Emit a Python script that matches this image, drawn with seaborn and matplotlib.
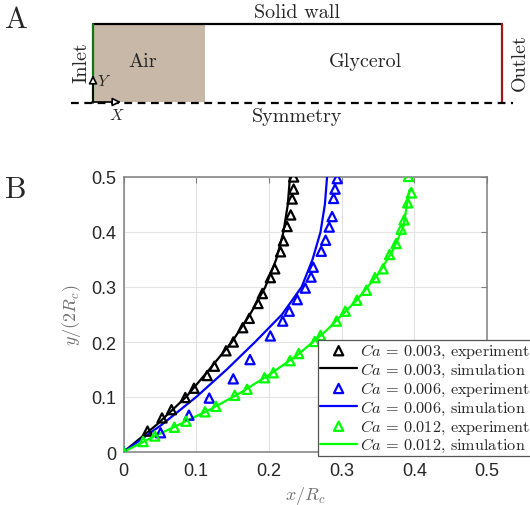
import numpy as np
import pandas as pd
import matplotlib
matplotlib.use("Agg")
import matplotlib.pyplot as plt
import seaborn as sns
from matplotlib.patches import Rectangle

# ---------------- data ----------------
black_exp_x = [0, 0.033, 0.053, 0.066, 0.085, 0.097, 0.115, 0.125, 0.141, 0.151, 0.164, 0.173,
               0.185, 0.191, 0.202, 0.208, 0.216, 0.220, 0.225, 0.230, 0.232, 0.234, 0.234]
black_exp_y = [0, 0.038, 0.062, 0.077, 0.099, 0.116, 0.139, 0.156, 0.184, 0.200, 0.226, 0.243,
               0.270, 0.288, 0.317, 0.333, 0.364, 0.384, 0.410, 0.431, 0.460, 0.478, 0.500]

blue_exp_x = [0, 0.051, 0.090, 0.118, 0.151, 0.174, 0.202, 0.219, 0.228, 0.239, 0.250, 0.258,
              0.261, 0.272, 0.278, 0.283, 0.287, 0.289, 0.291, 0.294]
blue_exp_y = [0, 0.035, 0.067, 0.098, 0.133, 0.168, 0.211, 0.238, 0.256, 0.277, 0.298, 0.318,
              0.336, 0.365, 0.385, 0.409, 0.428, 0.461, 0.478, 0.497]

green_exp_x = [0, 0.027, 0.043, 0.070, 0.086, 0.112, 0.127, 0.153, 0.170, 0.194, 0.206, 0.229,
               0.241, 0.263, 0.271, 0.293, 0.305, 0.321, 0.334, 0.346, 0.357, 0.366, 0.375,
               0.382, 0.386, 0.391, 0.396, 0.392]
green_exp_y = [0, 0.019, 0.029, 0.045, 0.056, 0.073, 0.083, 0.103, 0.114, 0.135, 0.144, 0.166,
               0.179, 0.201, 0.212, 0.238, 0.256, 0.276, 0.294, 0.317, 0.333, 0.359, 0.379,
               0.405, 0.422, 0.453, 0.471, 0.501]

sim_y = [0, 0.05, 0.1, 0.15, 0.2, 0.25, 0.3, 0.35, 0.4, 0.45, 0.5]
black_sim_x = [0, 0.046, 0.086, 0.118, 0.149, 0.174, 0.195, 0.210, 0.220, 0.226, 0.229]
blue_sim_x = [0, 0.053, 0.100, 0.142, 0.181, 0.218, 0.245, 0.260, 0.271, 0.277, 0.280]

green_sim_x = [0, 0.04, 0.08, 0.12, 0.16, 0.2, 0.24, 0.28, 0.32, 0.35, 0.37, 0.385, 0.393, 0.396, 0.393]
green_sim_y = [0, 0.027, 0.052, 0.078, 0.107, 0.14, 0.177, 0.222, 0.275, 0.323, 0.365, 0.41, 0.45, 0.48, 0.5]

ca_labels = ["0.003", "0.006", "0.012"]
colors = ["#000000", "#0000ff", "#00ff00"]
x_ticks = [0, 0.1, 0.2, 0.3, 0.4, 0.5]
y_ticks = [0, 0.1, 0.2, 0.3, 0.4, 0.5]
tick_labels = ["0", "0.1", "0.2", "0.3", "0.4", "0.5"]

# ---------------- style ----------------
sns.set_style("white")
plt.rcParams["font.family"] = ["Liberation Sans", "DejaVu Sans"]
plt.rcParams["mathtext.fontset"] = "cm"

W, H = 530, 506
fig = plt.figure(figsize=(W / 100, H / 100), dpi=100)

serif = "cmr10"

# ---------------- panel A (schematic) ----------------
axA = fig.add_axes([0, 1 - 130 / H, 1, 130 / H])
axA.set_xlim(0, W)
axA.set_ylim(130, 0)
axA.axis("off")
axA.add_patch(Rectangle((93, 25), 112, 78, facecolor="#c8b8a7", edgecolor="none", zorder=1))
axA.plot([93, 502], [25, 25], color="black", lw=1.6, zorder=3)
axA.plot([93, 93], [25, 103], color="#0a7a0a", lw=1.6, zorder=3)
axA.plot([502, 502], [25, 103], color="#a01818", lw=1.6, zorder=3)
axA.plot([71, 513], [104, 104], color="black", lw=1.6, ls=(0, (3.5, 2.5)), zorder=3)
axA.annotate("", xy=(93, 76), xytext=(93, 104),
             arrowprops=dict(arrowstyle="-|>,head_length=0.5,head_width=0.25", color="black",
                             lw=1.2, fc="white", shrinkA=0, shrinkB=0), zorder=4)
axA.annotate("", xy=(121, 103), xytext=(92, 103),
             arrowprops=dict(arrowstyle="-|>,head_length=0.5,head_width=0.25", color="black",
                             lw=1.2, fc="white", shrinkA=0, shrinkB=0), zorder=4)
fsA = 14.5
axA.text(297, 13, "Solid wall", family=serif, fontsize=fsA, ha="center", va="center")
axA.text(143, 62, "Air", family=serif, fontsize=fsA, ha="center", va="center")
axA.text(365, 62, "Glycerol", family=serif, fontsize=fsA, ha="center", va="center")
axA.text(81, 63, "Inlet", family=serif, fontsize=fsA, ha="center", va="center", rotation=90)
axA.text(520, 63, "Outlet", family=serif, fontsize=fsA, ha="center", va="center", rotation=90)
axA.text(297, 117, "Symmetry", family=serif, fontsize=fsA, ha="center", va="center")
axA.text(104, 82, "$Y$", fontsize=11.5, ha="center", va="center")
axA.text(117, 115, "$X$", fontsize=11.5, ha="center", va="center")
axA.text(16, 20, "A", family=serif, fontsize=22, ha="center", va="center")

fig.text(16 / W, 1 - 190 / H, "B", family=serif, fontsize=22, ha="center", va="center")

# ---------------- panel B ----------------
ax = fig.add_axes([123.5 / W, 1 - 453 / H, (487 - 123.5) / W, (453 - 178) / H])

exp_sets = [(black_exp_x, black_exp_y), (blue_exp_x, blue_exp_y), (green_exp_x, green_exp_y)]
sim_sets = [(black_sim_x, sim_y), (blue_sim_x, sim_y), (green_sim_x, green_sim_y)]

handles, labels = [], []
for i in range(3):
    ex, ey = exp_sets[i]
    sx, sy = sim_sets[i]
    df_sim = pd.DataFrame({"x": sx, "y": sy})
    df_exp = pd.DataFrame({"x": ex, "y": ey})
    sns.lineplot(data=df_sim, x="x", y="y", sort=False, color=colors[i], lw=1.6, ax=ax,
                 zorder=3, legend=False)
    sim_line = ax.lines[-1]
    sns.scatterplot(data=df_exp, x="x", y="y", marker="^", s=44, facecolor="none",
                    edgecolor=colors[i], linewidth=1.6, ax=ax, zorder=4, legend=False)
    exp_pts = ax.collections[-1]
    handles += [exp_pts, sim_line]
    labels += [rf"$Ca\,=\,{ca_labels[i]}$, experiment", rf"$Ca\,=\,{ca_labels[i]}$, simulation"]

ax.set_xlim(0, 0.5)
ax.set_ylim(0, 0.5)
ax.set_xticks(x_ticks)
ax.set_yticks(y_ticks)
ax.set_xticklabels(tick_labels)
ax.set_yticklabels(tick_labels)
ax.grid(True, color="#e3e3e3", lw=0.8)
ax.set_axisbelow(True)
for s in ax.spines.values():
    s.set_color("#7f7f7f")
    s.set_linewidth(1.1)
ax.tick_params(direction="in", length=4, width=0.8, color="#7f7f7f", labelsize=13,
               labelcolor="#262626", pad=5, top=True, right=True)
ax.tick_params(axis="x", pad=7)
ax.set_xlabel("$x/R_c$", fontsize=13, color="#707070", labelpad=4)
ax.set_ylabel("$y/(2R_c)$", fontsize=13, color="#707070", labelpad=6)

leg = ax.legend(handles, labels, loc="upper left", bbox_to_anchor=(318 / W, 1 - 341 / H),
                bbox_transform=fig.transFigure, borderaxespad=0, borderpad=0.12,
                prop={"family": serif, "size": 11.7}, frameon=True, fancybox=False,
                framealpha=1, edgecolor="#555555", handlelength=2.3, handletextpad=0.15,
                labelspacing=0.05, scatterpoints=1)
leg.get_frame().set_linewidth(0.9)

fig.savefig("out.png", dpi=100)
